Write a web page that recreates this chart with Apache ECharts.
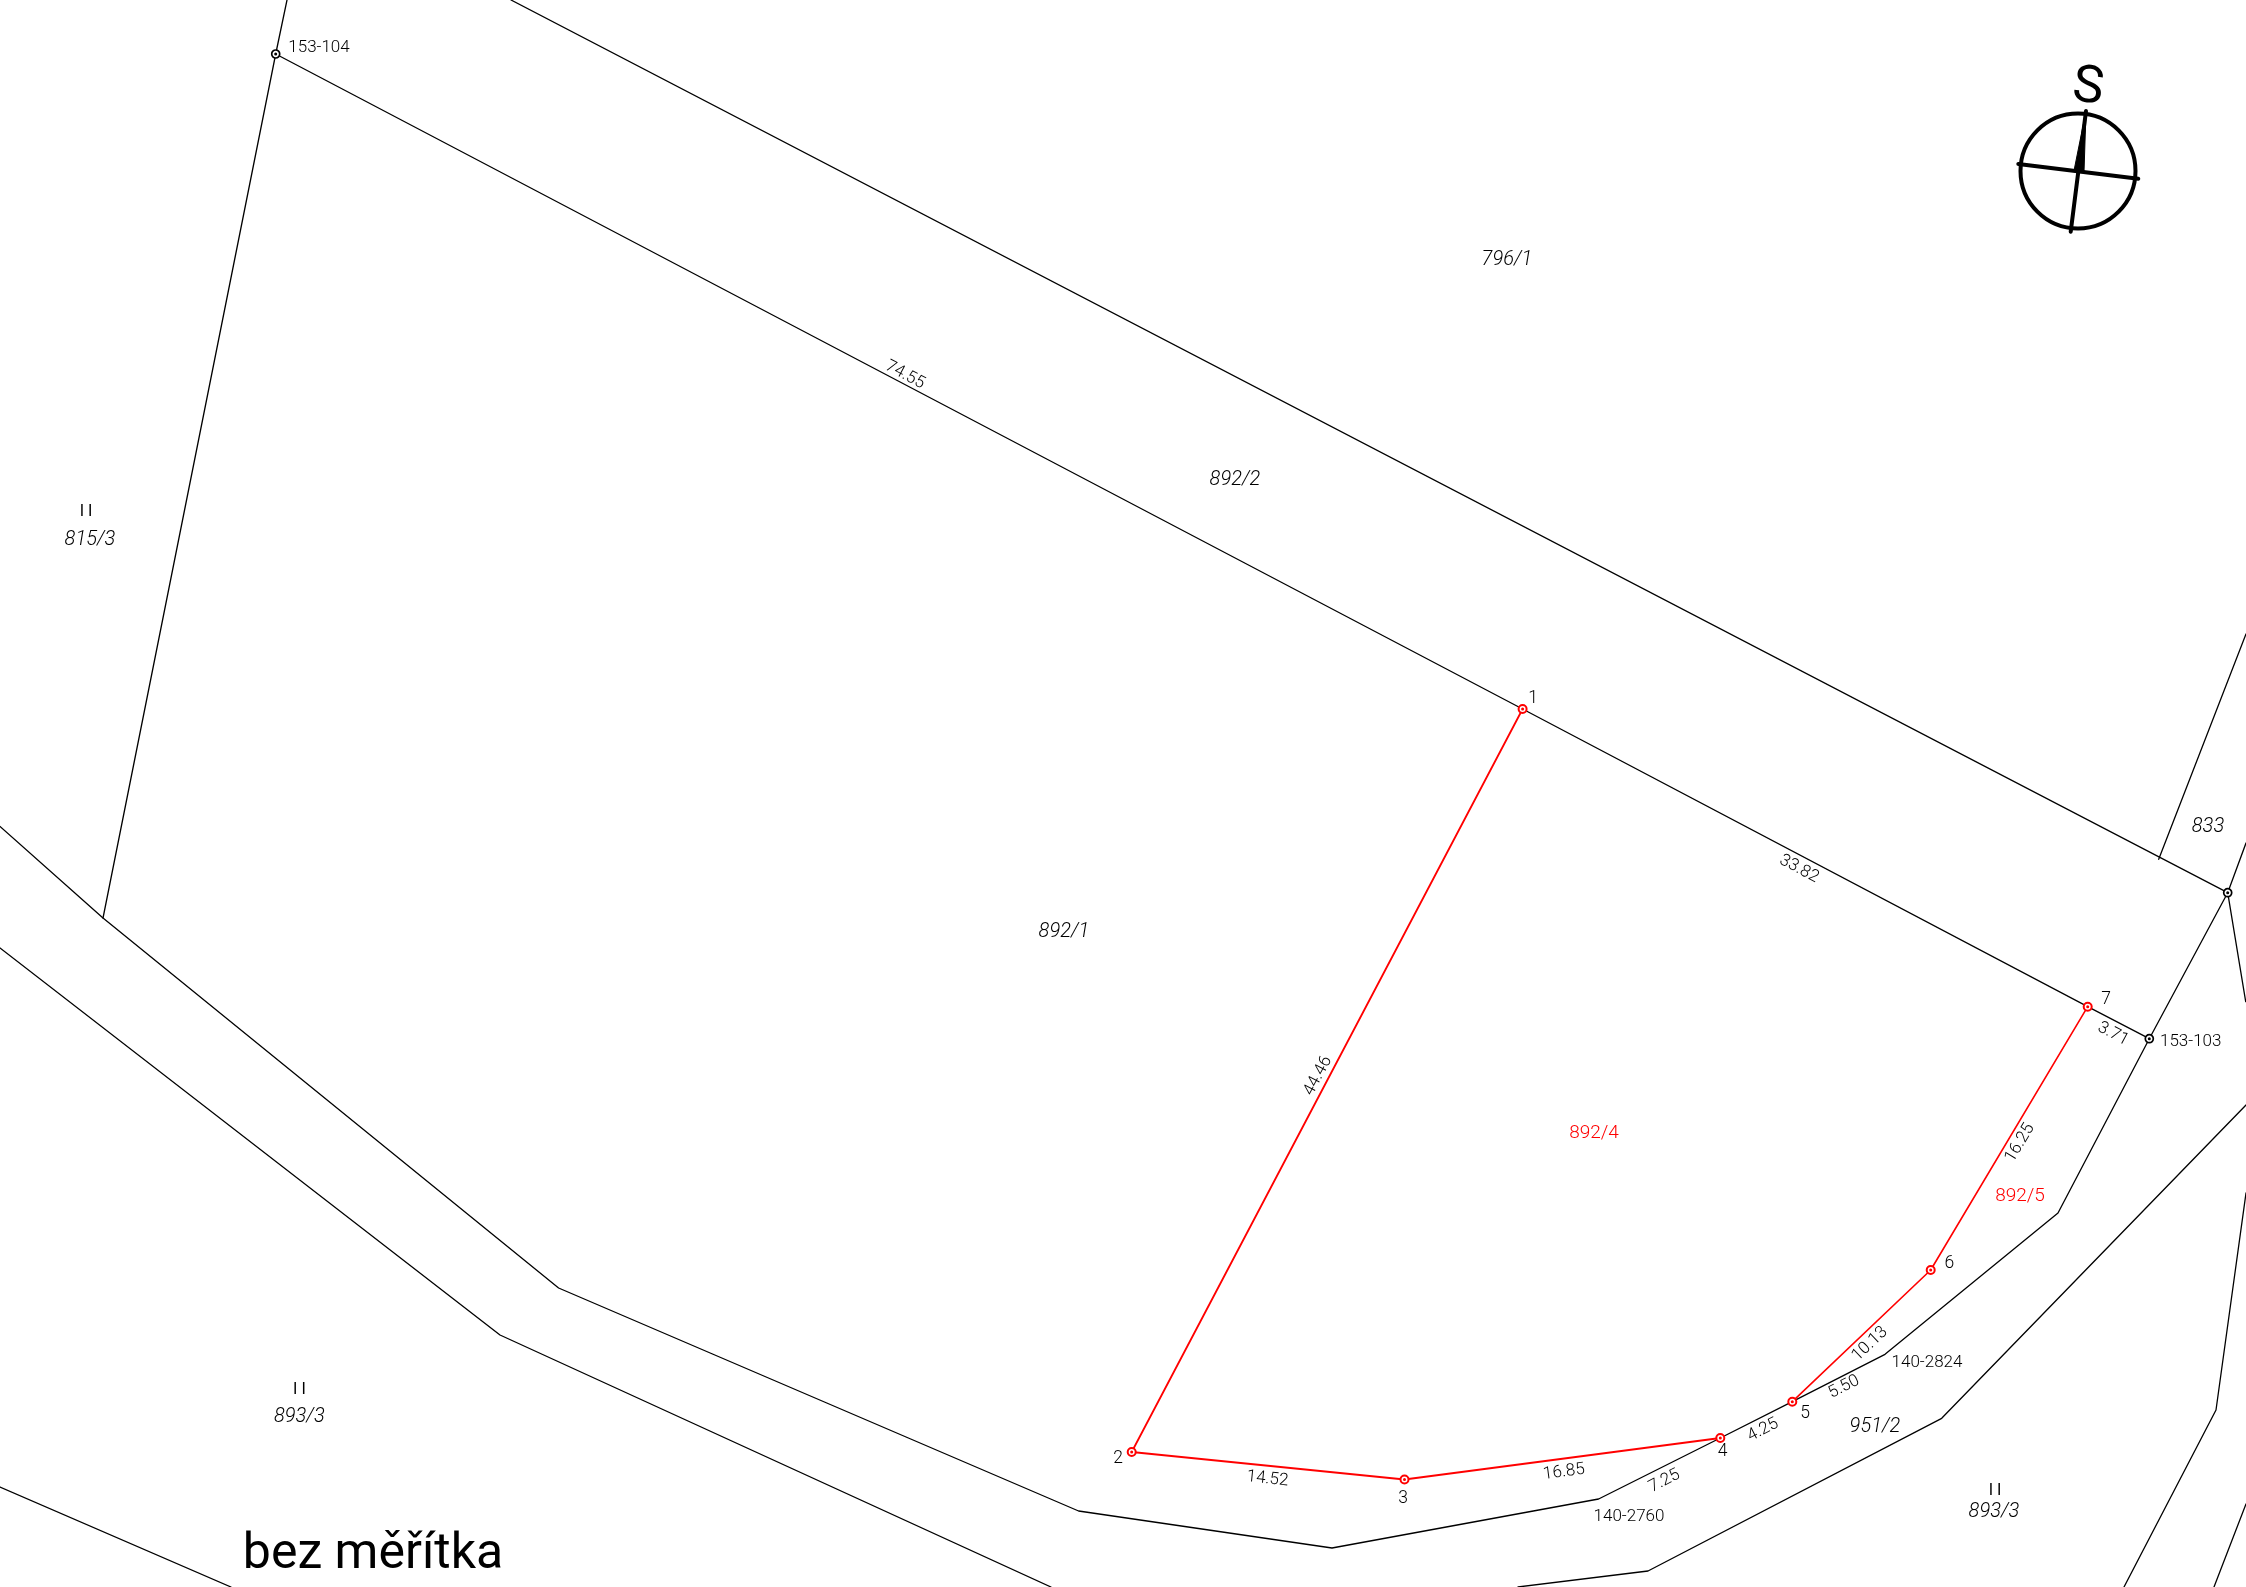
<!DOCTYPE html>
<html><head><meta charset="utf-8">
<style>html,body{margin:0;padding:0;background:#fff}#c{width:2246px;height:1587px}</style>
<script src="https://cdn.jsdelivr.net/npm/echarts@6/dist/echarts.min.js"></script>
</head><body><div id="c"></div>
<script>
// Map extent
const mapWidth = 2246, mapHeight = 1587;

// Black parcel boundaries
const boundary815 = [[287,0],[275.7,54],[103,918]];
const boundaryRoadNorth = [[0,826.5],[103,918],[558.6,1288],[1078.6,1511],[1332,1548],[1598.6,1499],[1720.3,1438],[1792.3,1401.7],[1885,1354.3],[2058,1213],[2149.3,1038.7],[2227.7,892.7],[2246,843]];
const boundaryRoadSouth = [[0,948],[500,1335],[1051,1587]];
const boundaryCorner = [[0,1487],[231,1587]];
const boundary951 = [[1518,1587],[1648,1571],[1941.7,1418.3],[2246,1105]];
const boundary892West = [[275.7,54],[1522.6,709],[2087.7,1006.7],[2149.3,1038.7]];
const boundary892North = [[511,0],[2227.7,892.7]];
const boundary833 = [[2158.7,859.3],[2246,634]];
const boundaryEast = [[2227.7,892.7],[2245.7,1001.7]];
const boundaryEast2 = [[2124,1587],[2216,1410],[2246,1193]];
const boundaryEast3 = [[2214,1587],[2246,1504]];
const blackLines = [boundary815,boundaryRoadNorth,boundaryRoadSouth,boundaryCorner,boundary951,boundary892West,boundary892North,boundary833,boundaryEast,boundaryEast2,boundaryEast3];

// New red division lines and their points
const redLineWest = [[1522.6,709],[1131.7,1452],[1404.5,1479.5],[1720.3,1438]];
const redLineEast = [[1792.3,1401.7],[1930.7,1270],[2087.7,1006.7]];
const blackPoints = [[275.7,54],[2149.3,1038.7],[2227.7,892.7]];

// Compass
const compassCentre = [2078,171];
const compassArmA = [[2018.3,164],[2138.3,178.7]];
const compassArmB = [[2086,111],[2070.7,231.7]];
const compassNeedle = [[2086,111],[2074,170.7],[2084,171.7]];

// Texts: [x, y, text, rotation]
const lengthLabels = [[905,375,'74.55',-28],[1799,869,'33.82',-28],[2113,1034,'3.71',-28],[1318,1076,'44.46',62],[2020,1143,'16.25',59],[1870,1344,'10.13',43.5],[1844,1387,'5.50',27],[1763,1430,'4.25',27],[1664.5,1481,'7.25',27],[1564,1472,'16.85',7.5],[1267.5,1479,'14.52',-5.8]];
const pointLabels = [[1533,699,'1',0],[1118,1459,'2',0],[1403,1499,'3',0],[1722.7,1452,'4',0],[1805,1414,'5',0],[1949.3,1264,'6',0],[2106,999.5,'7',0]];
const codeLabels = [[319,48,'153-104',0],[2190.7,1042,'153-103',0],[1629,1517,'140-2760',0],[1927,1363,'140-2824',0]];
const parcelLabels = [[1507,259.5,'796/1',0],[1235,479.5,'892/2',0],[1064,931.5,'892/1',0],[90,539.5,'815/3',0],[299.4,1416.5,'893/3',0],[1994,1511.5,'893/3',0],[1875,1426.5,'951/2',0],[2208,826.5,'833',0]];
const classLabels = [[86,512,'I I',0],[299.4,1390,'I I',0],[1995,1491,'I I',0]];
const redParcelLabels = [[1594,1133,'892/4',0],[2020,1196,'892/5',0]];
const titleLabel = [[373,1555,'bez měřítka',0]];
const northLabel = [[2088,89,'S',-7]];

const FONT = 'Roboto';
function textSeries(rows, style){
  return {type:'scatter', silent:true, symbolSize:1, itemStyle:{color:'transparent',opacity:1}, z:5,
    data: rows.map(r=>({value:[r[0],r[1]],
      label:Object.assign({show:true,position:'inside',align:'center',verticalAlign:'middle',
        fontFamily:FONT,color:'#000',formatter:r[2],rotate:r[3]},style)}))};
}
function lineSeries(pts,color,width,z){
  return {type:'line',data:pts,showSymbol:false,silent:true,clip:true,z:z,
    lineStyle:{color:color,width:width,cap:'round',join:'round'}};
}
const series = [];
const redPoints = redLineWest.concat(redLineEast);
blackLines.forEach(l=>series.push(lineSeries(l,'#000',1.3,2)));
series.push(lineSeries(redLineWest,'#ff0000',1.8,3));
series.push(lineSeries(redLineEast,'#ff0000',1.6,3));
series.push({type:'scatter',data:redPoints,symbol:'circle',symbolSize:8,z:4,silent:true,itemStyle:{color:'#fff',borderColor:'#ff0000',borderWidth:2,opacity:1}});
series.push({type:'scatter',data:redPoints,symbol:'circle',symbolSize:3,z:4,silent:true,itemStyle:{color:'#ff0000',opacity:1}});
series.push({type:'scatter',data:blackPoints,symbol:'circle',symbolSize:8,z:4,silent:true,itemStyle:{color:'#fff',borderColor:'#000',borderWidth:1.7,opacity:1}});
series.push({type:'scatter',data:blackPoints,symbol:'circle',symbolSize:3,z:4,silent:true,itemStyle:{color:'#000',opacity:1}});
series.push({type:'scatter',data:[compassCentre],symbol:'circle',symbolSize:115,z:4,silent:true,itemStyle:{color:'transparent',borderColor:'#000',borderWidth:4,opacity:1}});
series.push(lineSeries(compassArmA,'#000',4,4));
series.push(lineSeries(compassArmB,'#000',4,4));
series.push({type:'custom',silent:true,z:4,data:[0],renderItem:(p,api)=>({type:'polygon',
  shape:{points:compassNeedle.map(c=>api.coord(c))},style:{fill:'#000',stroke:'#000',lineWidth:1}})});
series.push(textSeries(lengthLabels,{fontSize:17,fontWeight:300}));
series.push(textSeries(pointLabels,{fontSize:17.5,fontWeight:300}));
series.push(textSeries(codeLabels,{fontSize:17,fontWeight:300}));
series.push(textSeries(parcelLabels,{fontSize:20,fontWeight:300,fontStyle:'italic'}));
series.push(textSeries(classLabels,{fontSize:16,fontWeight:400}));
series.push(textSeries(redParcelLabels,{fontSize:19,fontWeight:300,color:'#ff0000'}));
series.push(textSeries(titleLabel,{fontSize:50,fontWeight:400}));
series.push(textSeries(northLabel,{fontSize:52,fontWeight:400}));

const chart = echarts.init(document.getElementById('c'),null,{renderer:'canvas'});
chart.setOption({
  animation:false,
  backgroundColor:'#fff',
  grid:{left:0,right:0,top:0,bottom:0},
  xAxis:{type:'value',min:0,max:mapWidth,show:false},
  yAxis:{type:'value',min:0,max:mapHeight,inverse:true,show:false},
  series:series
});
</script></body></html>
